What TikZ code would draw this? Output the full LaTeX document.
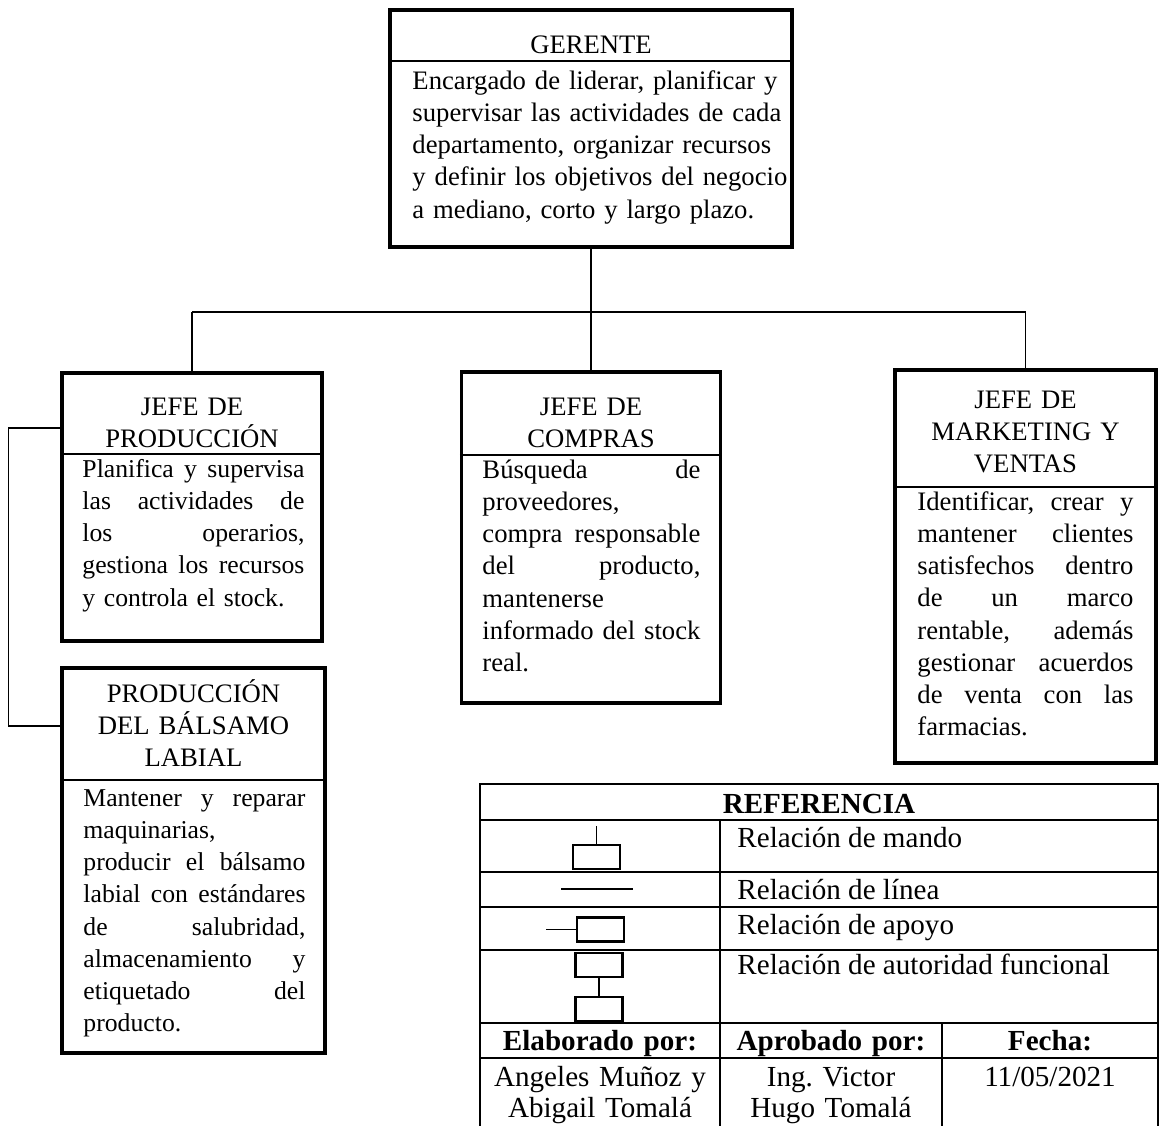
\documentclass[tikz,border=0pt]{standalone}
\usepackage{fontspec}
\setmainfont{Liberation Serif}
\usepackage{tikz}
\usetikzlibrary{positioning}

\newlength\pxu
\setlength\pxu{0.4124pt}
\newcommand\orgfont{\fontsize{11pt}{13.3pt}\selectfont}
\newcommand\orgfontsm{\fontsize{10.6pt}{13.3pt}\selectfont}
\newcommand\tabfont{\fontsize{12pt}{13pt}\selectfont}
% one typeset line, spread over the whole column
\newcommand\jline[1]{\hbox to \linewidth{#1}}

\tikzset{
 orgbox/.style
  = {rectangle, draw, line width=1.25pt, inner sep=0pt},
 divider/.style
  = {line width=0.55pt},
 link/.style
  = {draw, line width=0.55pt},
 headtxt/.style
  = {anchor=base, inner sep=0pt, text width=#1\pxu, align=center, font=\orgfont},
 bodytxt/.style
  = {anchor=base west, inner sep=0pt, text width=#1\pxu, font=\orgfont},
 tabline/.style
  = {line width=1.1pt, line cap=rect},
 keybox/.style
  = {rectangle, draw, line width=1pt, minimum width=47\pxu, minimum height=24\pxu, inner sep=0pt},
 keytxt/.style
  = {anchor=base west, inner sep=0pt, font=\tabfont},
 cell/.style
  = {anchor=base, inner sep=0pt, text width=#1\pxu, align=center, font=\tabfont},
}

\begin{document}
\begin{tikzpicture}[x=\pxu, y=-\pxu]
\useasboundingbox (0,0) rectangle (1160,1126);

% Gerente
\node[orgbox, minimum width=402\pxu, minimum height=237\pxu] (ger) at (591,128.5) {};
\draw[divider] (ger.west |- 0,61) -- (ger.east |- 0,61);
\node[headtxt=392] (gert) at (591,53) {GERENTE};
\node[bodytxt=368] (gerb) at (412,89) {%
  \jline{Encargado de liderar, planificar y\hfill}
  \jline{supervisar las actividades de cada\hfill}
  \jline{departamento, organizar recursos\hfill}
  \jline{y definir los objetivos del negocio\hfill}
  \jline{a mediano, corto y largo plazo.\hfill}};

% Jefe de produccion
\node[orgbox, minimum width=260\pxu, minimum height=268\pxu] (prod) at (192,507) {};
\draw[divider] (prod.west |- 0,454) -- (prod.east |- 0,454);
\node[headtxt=250] (prodt) at (192,415) {JEFE DE\\PRODUCCIÓN};
\node[bodytxt=222, font=\orgfontsm] (prodb) at (82,477) {%
  \jline{Planifica \hfill y \hfill supervisa}
  \jline{las \hfill actividades \hfill de}
  \jline{los \hfill operarios,}
  \jline{gestiona \hfill los \hfill recursos}
  \jline{y controla el stock.\hfill}};

% Jefe de compras
\node[orgbox, minimum width=259\pxu, minimum height=331\pxu] (comp) at (591,537.5) {};
\draw[divider] (comp.west |- 0,455) -- (comp.east |- 0,455);
\node[headtxt=249] (compt) at (591,415) {JEFE DE\\COMPRAS};
\node[bodytxt=218] (compb) at (482,478) {%
  \jline{Búsqueda \hfill de}
  \jline{proveedores,\hfill}
  \jline{compra \hfill responsable}
  \jline{del \hfill producto,}
  \jline{mantenerse\hfill}
  \jline{informado \hfill del \hfill stock}
  \jline{real.\hfill}};

% Jefe de marketing y ventas
\node[orgbox, minimum width=261\pxu, minimum height=393\pxu] (mkt) at (1025.5,566.5) {};
\draw[divider] (mkt.west |- 0,487) -- (mkt.east |- 0,487);
\node[headtxt=251] (mktt) at (1025.5,408) {JEFE DE\\MARKETING Y\\VENTAS};
\node[bodytxt=216] (mktb) at (917,510) {%
  \jline{Identificar, \hfill crear \hfill y}
  \jline{mantener \hfill clientes}
  \jline{satisfechos \hfill dentro}
  \jline{de \hfill un \hfill marco}
  \jline{rentable, \hfill además}
  \jline{gestionar \hfill acuerdos}
  \jline{de \hfill venta \hfill con \hfill las}
  \jline{farmacias.\hfill}};

% Produccion del balsamo
\node[orgbox, minimum width=263\pxu, minimum height=385\pxu] (bal) at (193.5,860.5) {};
\draw[divider] (bal.west |- 0,780) -- (bal.east |- 0,780);
\node[headtxt=253] (balt) at (193.5,702) {PRODUCCIÓN\\DEL BÁLSAMO\\LABIAL};
\node[bodytxt=222, font=\orgfontsm] (balb) at (83,806) {%
  \jline{Mantener \hfill y \hfill reparar}
  \jline{maquinarias,\hfill}
  \jline{producir \hfill el \hfill bálsamo}
  \jline{labial \hfill con \hfill estándares}
  \jline{de \hfill salubridad,}
  \jline{almacenamiento \hfill y}
  \jline{etiquetado \hfill del}
  \jline{producto.\hfill}};

% Lineas de mando
\coordinate (bus) at (591,312);
\draw[link] (ger) -- (bus);
\draw[link] (bus -| prod) -- (bus -| mkt);
\foreach \n in {prod,comp,mkt}
  \draw[link] (bus -| \n) -- (\n);

% Apoyo
\draw[link] (prod.west |- 0,428) -- ++(-52,0) |- (bal.west |- 0,726);

% Tabla de referencia
\foreach \y in {784,820,872,907,950,1023,1058}
  \draw[tabline] (480,\y) -- (1158,\y);
\draw[tabline] (480,784) -- (480,1130);
\draw[tabline] (1158,784) -- (1158,1130);
\draw[tabline] (720,820) -- (720,1130);
\draw[tabline] (942,1023) -- (942,1130);

\node[cell=400, font=\tabfont\bfseries] (refh) at (819,813) {REFERENCIA};

\node[keybox] (k1) at (596.5,857) {};
\draw[link] (k1.north) -- ++(0,-18);
\node[keytxt] (kt1) at (737,847) {Relación de mando};

\draw[link] (561,889) -- (633,889);
\node[keytxt] (kt2) at (737,899) {Relación de línea};

\node[keybox] (k3) at (600.5,929.5) {};
\draw[link] (k3.west) -- ++(-30,0);
\node[keytxt] (kt3) at (737,934) {Relación de apoyo};

\node[keybox] (k4a) at (599,965) {};
\node[keybox] (k4b) at (599,1009) {};
\draw[link] (k4a) -- (k4b);
\node[keytxt] (kt4) at (737,974) {Relación de autoridad funcional};

% Firmas
\node[cell=230, font=\tabfont\bfseries] (elab) at (600,1050) {Elaborado por:};
\node[cell=212, font=\tabfont\bfseries] (apro) at (831,1050) {Aprobado por:};
\node[cell=206, font=\tabfont\bfseries] (fech) at (1050,1050) {Fecha:};
\node[cell=230] (elabn) at (600,1086) {Angeles Muñoz y\\Abigail Tomalá};
\node[cell=212] (apron) at (831,1086) {Ing.\ Victor\\Hugo Tomalá};
\node[cell=206] (fechn) at (1050,1086) {11/05/2021};

\end{tikzpicture}
\end{document}
